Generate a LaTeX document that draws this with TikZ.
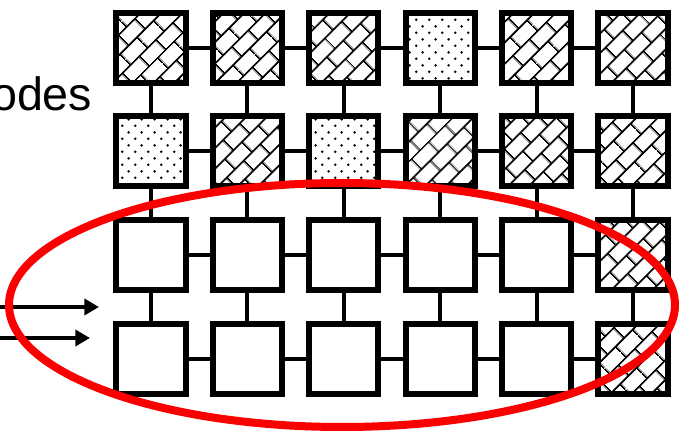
\documentclass[tikz,border=0pt]{standalone}
\usepackage{fontspec}
\setmainfont{Liberation Sans}
\usetikzlibrary{arrows.meta,patterns.meta}

\definecolor{ringred}{RGB}{250,0,0}

\tikzdeclarepattern{
  name=mesh bricks,
  type=uncolored,
  bounding box={(0,0) and (18pt,22pt)},
  tile size={(18pt,22pt)},
  tile transformation={rotate=45},
  code={
    \draw[line width=1.4pt] (0,5.5pt) -- (18pt,5.5pt) (0,16.5pt) -- (18pt,16.5pt)
      (4.5pt,5.5pt) -- (4.5pt,16.5pt)
      (13.5pt,16.5pt) -- (13.5pt,22pt) (13.5pt,0) -- (13.5pt,5.5pt);
  }
}
\tikzdeclarepattern{
  name=mesh dots,
  type=uncolored,
  bounding box={(0,0) and (10pt,10pt)},
  tile size={(10pt,10pt)},
  code={
    \fill (2.5pt,2.5pt) circle (1.1pt);
    \fill (7.5pt,7.5pt) circle (1.1pt);
  }
}

\tikzset{
  mesh node/.style={draw=black,line width=4.5pt,minimum size=52pt,inner sep=0pt,fill=white},
  brick node/.style={mesh node,pattern={mesh bricks},pattern color=black},
  dots node/.style={mesh node,pattern={mesh dots},pattern color=black},
  mesh link/.style={draw=black,line width=3pt},
  feed arrow/.style={-{Triangle[length=11pt,width=12pt]},line width=3pt,draw=black},
  ring/.style={draw=ringred,line width=6pt}
}

\begin{document}
\begin{tikzpicture}[x=0.75pt,y=-0.75pt]
  \useasboundingbox (0,0) rectangle (679,434);
  \node[anchor=base east,font=\fontsize{35}{42}\selectfont] (label) at (97,111) {odes};

  % grid of processors
  \foreach \kind [count=\col] in {brick node,brick node,brick node,dots node,brick node,brick node}
    \node[\kind] (n-1-\col) at ({151+96.4*(\col-1)},48) {};
  \foreach \kind [count=\col] in {dots node,brick node,dots node,brick node,brick node,brick node}
    \node[\kind] (n-2-\col) at ({151+96.4*(\col-1)},151) {};
  \foreach \kind [count=\col] in {mesh node,mesh node,mesh node,mesh node,mesh node,brick node}
    \node[\kind] (n-3-\col) at ({151+96.4*(\col-1)},255) {};
  \foreach \kind [count=\col] in {mesh node,mesh node,mesh node,mesh node,mesh node,brick node}
    \node[\kind] (n-4-\col) at ({151+96.4*(\col-1)},359) {};

  % links
  \foreach \row in {1,...,4}
    \foreach \col/\next in {1/2,2/3,3/4,4/5,5/6}
      \draw[mesh link] (n-\row-\col) -- (n-\row-\next);
  \foreach \row/\below in {1/2,2/3,3/4}
    \foreach \col in {1,...,6}
      \draw[mesh link] (n-\row-\col) -- (n-\below-\col);

  % incoming arrows
  \coordinate (feed a) at (-5,307);
  \coordinate (feed a tip) at (99,307);
  \coordinate (feed b) at (-5,338);
  \coordinate (feed b tip) at (90,338);
  \draw[feed arrow] (feed a) -- (feed a tip);
  \draw[feed arrow] (feed b) -- (feed b tip);

  % selected region
  \coordinate (ring centre) at (342,305);
  \draw[ring] (ring centre) ellipse [x radius=249.75pt,y radius=91.5pt];
\end{tikzpicture}
\end{document}
